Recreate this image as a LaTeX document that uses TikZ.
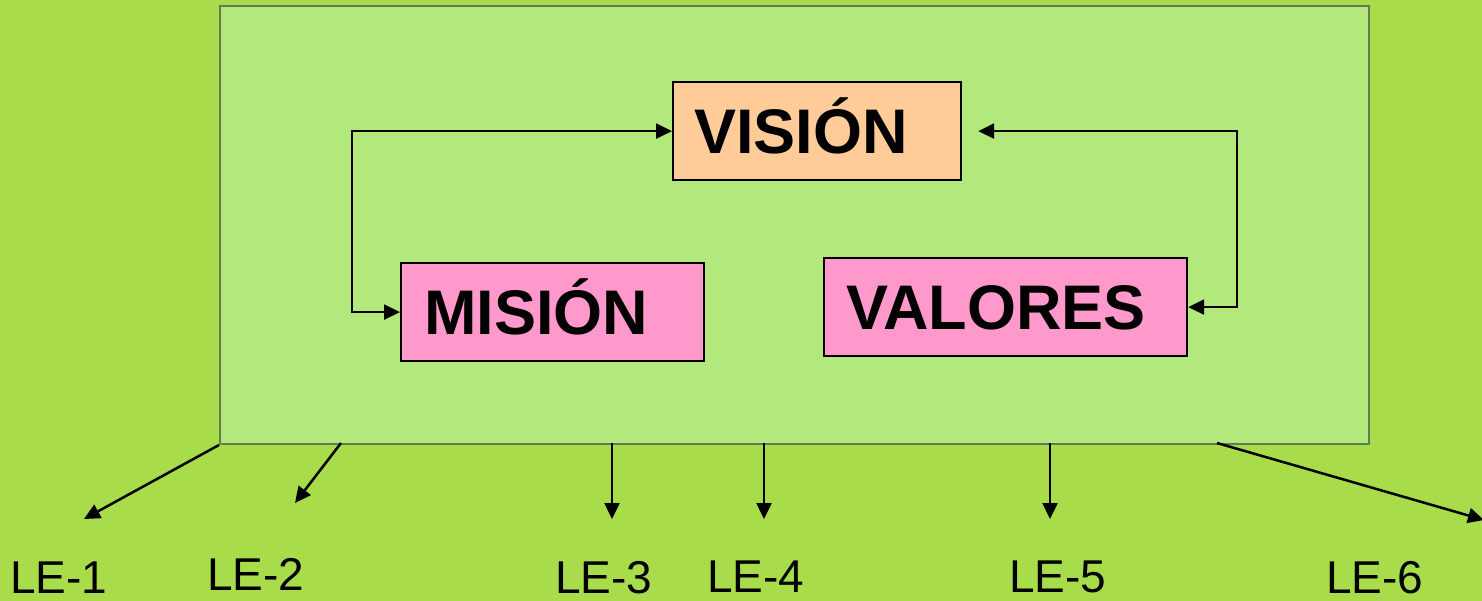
\documentclass[tikz,border=0pt]{standalone}
\usepackage{fontspec}
\setmainfont{Liberation Sans}
\usetikzlibrary{arrows.meta}

\definecolor{fondo}{RGB}{168,220,74}
\definecolor{marcofill}{RGB}{179,233,124}
\definecolor{marcoline}{RGB}{96,124,84}
\definecolor{durazno}{RGB}{255,204,153}
\definecolor{rosa}{RGB}{255,153,204}

\tikzset{
  caja/.style={draw=black,line width=2.2pt,rectangle,align=left,
    minimum height=98pt,inner ysep=0pt,text height=45pt,text depth=0pt,
    font=\fontsize{63}{70}\selectfont\bfseries},
  flecha/.style={line width=2.5pt,-{Triangle[length=16pt,width=15pt]}},
  doble/.style={line width=2.4pt,{Triangle[length=16pt,width=15pt]}-{Triangle[length=16pt,width=15pt]}},
  etiqueta/.style={anchor=base west,inner sep=0pt,font=\fontsize{46}{50}\selectfont}
}

\begin{document}
\begin{tikzpicture}[x=1pt,y=-1pt]

        \useasboundingbox (0,0) rectangle (1482,601);
        \fill[fondo] (0,0) rectangle (1482,601);

        \node[draw=marcoline,fill=marcofill,line width=2pt,anchor=north west,
              minimum width=1149pt,minimum height=438pt,inner sep=0pt] (marco) at (219,5) {};

        \begin{scope}[every node/.style={caja,anchor=north west}]
          \node[fill=durazno,minimum width=288pt,text width=246pt] (vision)  at (672,81)  {VISIÓN};
          \node[fill=rosa,minimum width=303pt,text width=257pt]    (mision)  at (400,262) {MISIÓN};
          \node[fill=rosa,minimum width=363pt,text width=319pt]    (valores) at (823,257) {VALORES};
        \end{scope}

        \draw[doble] (mision.west) -- ++(-48,0) |- (vision.west);
        \draw[doble,shorten >=16pt] (valores.east) -- ++(49,0) |- (vision.east);

        \node[etiqueta] (le1) at (10,593)   {LE-1};
        \node[etiqueta] (le2) at (207,590)  {LE-2};
        \node[etiqueta] (le3) at (555,593)  {LE-3};
        \node[etiqueta] (le4) at (707,592)  {LE-4};
        \node[etiqueta] (le5) at (1009,592) {LE-5};
        \node[etiqueta] (le6) at (1326,593) {LE-6};

        \coordinate (s2) at (341,443);
        \coordinate (s3) at (612,443);
        \coordinate (s4) at (764,443);
        \coordinate (s5) at (1050,443);
        \coordinate (s6) at (1217,443);

        \coordinate (t1) at (84,519);
        \coordinate (t2) at (295,503);
        \coordinate (t3) at (612,519);
        \coordinate (t4) at (764,519);
        \coordinate (t5) at (1050,519);
        \coordinate (t6) at (1484,520);

        \draw[flecha] (marco.south west) -- (t1);
        \draw[flecha] (s2) -- (t2);
        \draw[flecha] (s3) -- (t3);
        \draw[flecha] (s4) -- (t4);
        \draw[flecha] (s5) -- (t5);
        \draw[flecha] (s6) -- (t6);

      \end{tikzpicture}
\end{document}
